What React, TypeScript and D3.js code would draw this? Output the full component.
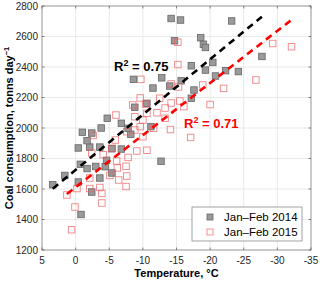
import React from "react";
import * as d3 from "d3";

// Jan–Feb 2014: [temperature °C, coal consumption t/day]
const series2014: [number, number][] = [
  [3.4, 1628], [1.6, 1689], [-0.4, 1646], [-0.8, 1433], [-2.4, 1580],
  [-3.6, 1672], [-0.7, 1762], [-1.7, 1734], [-3.0, 1748], [-4.4, 1746],
  [-4.6, 1788], [-5.4, 1705], [-0.4, 1869], [-2.1, 1875], [-3.6, 1875],
  [-5.4, 1864], [-6.8, 1862], [-1.7, 1917], [-1.0, 1972], [-2.4, 1967],
  [-3.8, 2000], [-6.8, 2031], [-8.2, 1959], [-4.7, 2064], [-7.8, 1998],
  [-11.2, 2009], [-10.6, 2162], [-8.8, 2136], [-8.6, 2319], [-11.5, 2262],
  [-12.8, 2329], [-14.0, 2275], [-15.7, 2310], [-17.2, 2195], [-17.6, 2249],
  [-20.8, 2341], [-19.3, 2380], [-22.3, 2376], [-24.2, 2370], [-17.2, 2408],
  [-20.4, 2430], [-14.7, 2572], [-18.6, 2592], [-19.0, 2549], [-19.3, 2528],
  [-14.2, 2718], [-15.6, 2708], [-23.2, 2702], [-27.7, 2469], [-12.7, 1782],
];

// Jan–Feb 2015
const series2015: [number, number][] = [
  [1.3, 1561], [-0.2, 1603], [0.6, 1333], [0.1, 1482], [-2.1, 1603],
  [-3.6, 1610], [-3.9, 1571], [-3.9, 1508], [-2.1, 1672], [-5.1, 1689],
  [-6.4, 1659], [-7.6, 1685], [-7.5, 1616], [-6.2, 1738], [-7.5, 1749],
  [-6.1, 1784], [-7.8, 1807], [-9.1, 1849], [-10.6, 1854], [-4.1, 1825],
  [-2.4, 1836], [-5.4, 1867], [-2.6, 1951], [-6.0, 2085], [-5.9, 1921],
  [-7.6, 1976], [-8.8, 1987], [-9.6, 2009], [-10.0, 1943], [-8.8, 2074],
  [-10.0, 2052], [-10.6, 2096], [-12.1, 2100], [-13.3, 2064], [-11.6, 1998],
  [-14.1, 1990], [-17.1, 1938], [-8.5, 2151], [-10.4, 2157], [-9.6, 2197],
  [-12.5, 2195], [-13.3, 2131], [-14.2, 2164], [-15.5, 2177], [-16.1, 2140],
  [-9.7, 2319], [-14.2, 2289], [-15.3, 2269], [-18.9, 2282], [-22.0, 2260],
  [-20.0, 2154], [-15.2, 2416], [-15.2, 2562], [-26.8, 2315], [-29.3, 2554],
  [-32.1, 2533],
];

// fitted lines, end points
const fit2014: [number, number][] = [[3.4, 1602], [-27.7, 2730]];
const fit2015: [number, number][] = [[1.3, 1567], [-32.1, 2709]];

const xTicks = [5, 0, -5, -10, -15, -20, -25, -30, -35];
const yTicks = [1200, 1400, 1600, 1800, 2000, 2200, 2400, 2600, 2800];
const legendLabels = ["Jan\u2013Feb 2014", "Jan\u2013Feb 2015"];

const W = 320;
const H = 284;
const left = 42, right = 311, top = 6, bottom = 250;

export default function App() {
  const x = d3.scaleLinear().domain([5, -35]).range([left, right]);
  const y = d3.scaleLinear().domain([1200, 2800]).range([bottom, top]);
  const line = d3.line<[number, number]>().x(d => x(d[0])).y(d => y(d[1]));
  const font = "'Liberation Sans', Arial, sans-serif";
  const s = 6.5;

  return (
    <svg width={W} height={H} style={{ position: "absolute", left: 0, top: 0, background: "#fff" }} fontFamily={font}>
      <rect x={left} y={top} width={right - left} height={bottom - top} fill="#fff" />
      {xTicks.map(t => (
        <line key={"gx" + t} x1={x(t)} x2={x(t)} y1={top} y2={bottom} stroke="#e3e3e3" strokeWidth={0.8} />
      ))}
      {yTicks.map(t => (
        <line key={"gy" + t} x1={left} x2={right} y1={y(t)} y2={y(t)} stroke="#e3e3e3" strokeWidth={0.8} />
      ))}

      {series2014.map((d, i) => (
        <rect key={"a" + i} x={x(d[0]) - s / 2} y={y(d[1]) - s / 2} width={s} height={s}
          fill="#9a9a9a" stroke="#666" strokeWidth={0.8} />
      ))}
      {series2015.map((d, i) => (
        <rect key={"b" + i} x={x(d[0]) - s / 2} y={y(d[1]) - s / 2} width={s} height={s}
          fill="none" stroke="#ec5a5e" strokeOpacity={0.75} strokeWidth={0.9} />
      ))}

      <path d={line(fit2014) || ""} stroke="#000" strokeWidth={2.6} strokeDasharray="7,5" fill="none" />
      <path d={line(fit2015) || ""} stroke="#ff0000" strokeWidth={2.6} strokeDasharray="7,5" fill="none" />

      <text x={114} y={71} fontSize={13} fontWeight="bold" fill="#000">
        R<tspan fontSize={9} dy={-5}>2</tspan><tspan dy={5}> = 0.75</tspan>
      </text>
      <text x={184} y={128} fontSize={13} fontWeight="bold" fill="#ff0000">
        R<tspan fontSize={9} dy={-5}>2</tspan><tspan dy={5}> = 0.71</tspan>
      </text>

      {/* axes box */}
      <rect x={left} y={top} width={right - left} height={bottom - top} fill="none" stroke="#8c8c8c" strokeWidth={0.8} />
      {xTicks.map(t => (
        <g key={"tx" + t}>
          <line x1={x(t)} x2={x(t)} y1={bottom} y2={bottom - 2.5} stroke="#555" strokeWidth={0.7} />
          <line x1={x(t)} x2={x(t)} y1={top} y2={top + 2.5} stroke="#555" strokeWidth={0.7} />
          <text x={x(t)} y={bottom + 14} fontSize={10} textAnchor="middle" fill="#262626">{t}</text>
        </g>
      ))}
      {yTicks.map(t => (
        <g key={"ty" + t}>
          <line x1={left} x2={left + 2.5} y1={y(t)} y2={y(t)} stroke="#555" strokeWidth={0.7} />
          <line x1={right} x2={right - 2.5} y1={y(t)} y2={y(t)} stroke="#555" strokeWidth={0.7} />
          <text x={left - 4} y={y(t) + 3.5} fontSize={10} textAnchor="end" fill="#262626">{t}</text>
        </g>
      ))}

      <text x={(left + right) / 2} y={277} fontSize={11} fontWeight="bold" textAnchor="middle" fill="#000">
        Temperature, °C
      </text>
      <text transform={`translate(12.5,${(top + bottom) / 2}) rotate(-90)`} fontSize={11} fontWeight="bold"
        textAnchor="middle" fill="#000">
        Coal consumption, tonns day<tspan fontSize={7.5} dy={-4}>−1</tspan>
      </text>

      {/* legend */}
      <rect x={192} y={207} width={110} height={34} fill="#fff" stroke="#8c8c8c" strokeWidth={0.8} />
      <rect x={210 - 3} y={217 - 3} width={6} height={6} fill="#9a9a9a" stroke="#666" strokeWidth={0.8} />
      <rect x={210 - 3} y={232 - 3} width={6} height={6} fill="none" stroke="#ec5a5e" strokeOpacity={0.75} strokeWidth={0.9} />
      {legendLabels.map((l, i) => (
        <text key={l} x={224} y={221 + i * 15} fontSize={11.5} fill="#000">{l}</text>
      ))}
    </svg>
  );
}
